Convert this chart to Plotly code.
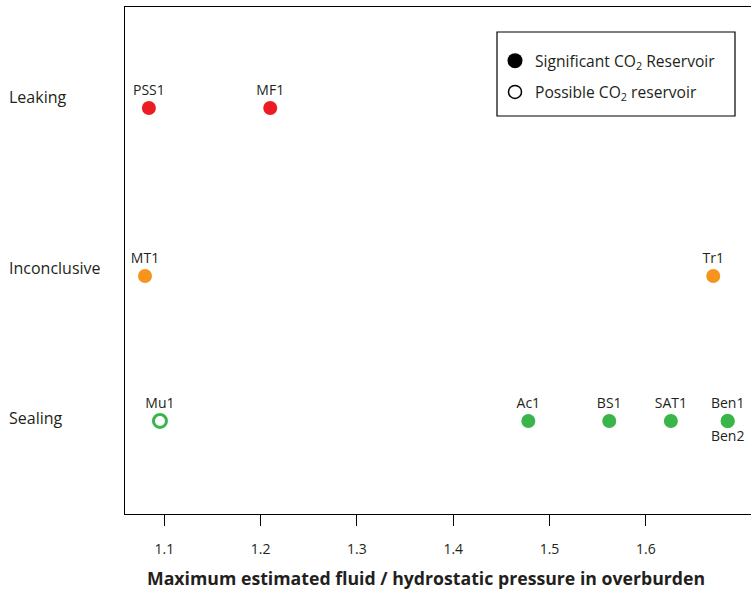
import plotly.graph_objects as go

# ---- data ----
categories = ["Leaking", "Inconclusive", "Sealing"]
cat_pos = {"Leaking": 3.0, "Inconclusive": 2.0, "Sealing": 1.137}
cat_colors = {"Leaking": "#ED1C24", "Inconclusive": "#F7941D", "Sealing": "#39B54A"}

names = ["PSS1", "MF1", "MT1", "Tr1", "Mu1", "Ac1", "BS1", "SAT1", "Ben1", "Ben2"]
pressure = [1.084, 1.210, 1.080, 1.670, 1.0955, 1.478, 1.562, 1.626, 1.685, 1.685]
status = ["Leaking", "Leaking", "Inconclusive", "Inconclusive", "Sealing",
          "Sealing", "Sealing", "Sealing", "Sealing", "Sealing"]
significant = [True, True, True, True, False, True, True, True, True, True]
label_below = [False, False, False, False, False, False, False, False, False, True]

x_ticks = [1.1, 1.2, 1.3, 1.4, 1.5, 1.6]
x_title = "Maximum estimated fluid / hydrostatic pressure in overburden"
legend_names = ["Significant CO<sub>2</sub> Reservoir", "Possible CO<sub>2</sub> reservoir"]

FONT = "Open Sans"
TXT = "#231F20"
L, T, W, H = 125, 7, 626, 507  # plot area in px

def px_x(px):
    return (px - L) / W

def px_y(py):
    return 1 - (py - T) / H

fig = go.Figure()

for n, p, s, sig, below in zip(names, pressure, status, significant, label_below):
    col = cat_colors[s]
    fig.add_trace(go.Scatter(
        x=[p], y=[cat_pos[s]], mode="markers+text", text=[n],
        textposition="bottom center" if below else "top center",
        textfont=dict(family=FONT, size=14, color=TXT),
        marker=dict(size=14 if sig else 13, color=col if sig else "white",
                    line=dict(color=col, width=0 if sig else 3)),
        showlegend=False, cliponaxis=False, hoverinfo="skip"))

# legend entries
fig.add_trace(go.Scatter(x=[None], y=[None], mode="markers", name=legend_names[0],
                         legendgroup="a",
                         marker=dict(size=15, color="black")))
fig.add_trace(go.Scatter(x=[None], y=[None], mode="markers", name=legend_names[1],
                         legendgroup="b",
                         marker=dict(size=13, color="white", line=dict(color="black", width=1.5))))

shifts = {"Leaking": 11, "Inconclusive": 8, "Sealing": 3}
for c in categories:
    fig.add_annotation(x=0, xref="paper", xshift=-118, xanchor="left",
                       y=cat_pos[c], yref="y", yshift=shifts[c],
                       text=c, showarrow=False,
                       font=dict(family=FONT, size=16, color=TXT))

fig.add_annotation(x=px_x(426), xref="paper", y=0, yref="paper",
                   text="<b>" + x_title + "</b>",
                   showarrow=False, yanchor="middle", yshift=-64,
                   font=dict(family=FONT, size=17.7, color=TXT))

# legend frame
fig.add_shape(type="rect", xref="paper", yref="paper",
              x0=px_x(497), x1=px_x(735), y0=px_y(116), y1=px_y(32),
              line=dict(color="black", width=1.2), fillcolor="white", layer="below")

fig.update_layout(
    width=751, height=590,
    margin=dict(l=L, r=0, t=T, b=590 - T - H),
    plot_bgcolor="white", paper_bgcolor="white",
    font=dict(family=FONT, color=TXT),
    xaxis=dict(range=[1.0592, 1.7092], tickvals=x_ticks, ticktext=[str(t) for t in x_ticks],
               showline=True, linecolor="black", linewidth=1.3, mirror=True,
               ticks="outside", ticklen=11, tickcolor="black", tickwidth=1,
               ticklabelstandoff=11, showgrid=False, zeroline=False,
               tickfont=dict(family=FONT, size=14, color=TXT)),
    yaxis=dict(range=[0.583, 3.601], showline=True, linecolor="black", linewidth=1.3,
               showticklabels=False, ticks="", showgrid=False, zeroline=False),
    legend=dict(x=px_x(495), y=px_y(44), xanchor="left", yanchor="top",
                borderwidth=0, bgcolor="rgba(0,0,0,0)",
                font=dict(family=FONT, size=15.6, color=TXT),
                tracegroupgap=8, itemsizing="trace"),
)

fig.write_html("out.html", config={"displayModeBar": False},
               post_script="document.body.style.margin='0';document.body.style.padding='0';")
